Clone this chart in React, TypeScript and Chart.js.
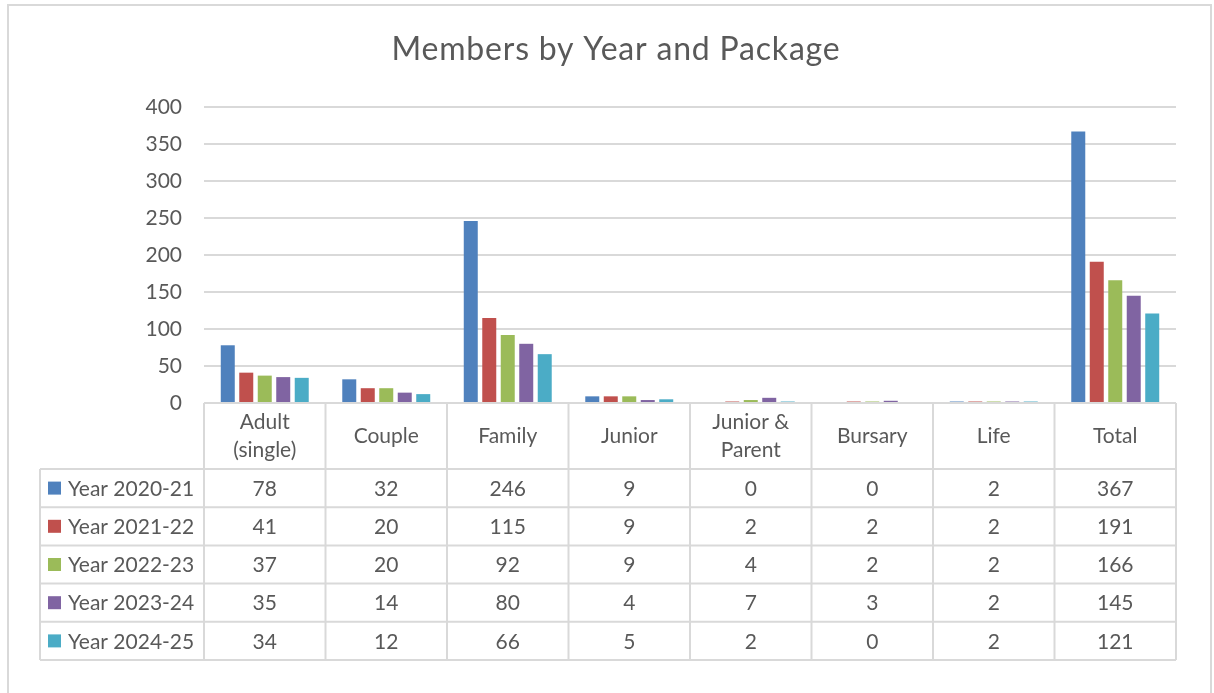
import React, { useEffect, useRef } from "react";
import { Chart, registerables } from "chart.js";

Chart.register(...registerables);

const TITLE = "Members by Year and Package";
const categories: string[][] = [
  ["Adult", "(single)"],
  ["Couple"],
  ["Family"],
  ["Junior"],
  ["Junior &", "Parent"],
  ["Bursary"],
  ["Life"],
  ["Total"],
];
const seriesNames = ["Year 2020-21", "Year 2021-22", "Year 2022-23", "Year 2023-24", "Year 2024-25"];
const year2020 = [78, 32, 246, 9, 0, 0, 2, 367];
const year2021 = [41, 20, 115, 9, 2, 2, 2, 191];
const year2022 = [37, 20, 92, 9, 4, 2, 2, 166];
const year2023 = [35, 14, 80, 4, 7, 3, 2, 145];
const year2024 = [34, 12, 66, 5, 2, 0, 2, 121];
const seriesColors = ["#4F81BD", "#C0504D", "#9BBB59", "#8064A2", "#4BACC6"];
const yMax = 400;
const yStep = 50;

const FONT = "Lato, 'Open Sans', sans-serif";
const TEXT = "#595959";
const LINE = "#D9D9D9";

const seriesValues = [year2020, year2021, year2022, year2023, year2024];

const framePlugin = {
  id: "frame",
  beforeDraw(chart: any) {
    const ctx = chart.ctx;
    ctx.save();
    ctx.fillStyle = "#FFFFFF";
    ctx.fillRect(0, 0, chart.width, chart.height);
    ctx.strokeStyle = LINE;
    ctx.lineWidth = 2;
    ctx.strokeRect(8, 5, 1203, 720);
    ctx.fillStyle = TEXT;
    ctx.font = `32px ${FONT}`;
    try {
      (ctx as any).letterSpacing = "0.8px";
    } catch (e) {}
    ctx.textAlign = "center";
    ctx.textBaseline = "alphabetic";
    ctx.fillText(TITLE, 616, 60);
    try {
      (ctx as any).letterSpacing = "0px";
    } catch (e) {}
    ctx.restore();
  },
};

const tablePlugin = {
  id: "dataTable",
  afterDraw(chart: any) {
    const ctx = chart.ctx;
    const area = chart.chartArea;
    const xs = chart.scales.x;
    const n = categories.length;
    const colW = (area.right - area.left) / n;
    const top = area.bottom;
    const headerH = 66;
    const rowH = 38.2;
    const legendLeft = 40;
    const rows = seriesNames.length;
    const bottom = top + headerH + rows * rowH;

    ctx.save();
    ctx.strokeStyle = LINE;
    ctx.lineWidth = 2;
    ctx.beginPath();
    ctx.moveTo(area.left, top);
    ctx.lineTo(area.right, top);
    for (let r = 0; r <= rows; r++) {
      const y = top + headerH + r * rowH;
      ctx.moveTo(legendLeft, y);
      ctx.lineTo(area.right, y);
    }
    for (let i = 0; i <= n; i++) {
      const x = area.left + i * colW;
      ctx.moveTo(x, top);
      ctx.lineTo(x, bottom);
    }
    ctx.moveTo(legendLeft, top + headerH);
    ctx.lineTo(legendLeft, bottom);
    ctx.stroke();

    ctx.fillStyle = TEXT;
    ctx.font = `21px ${FONT}`;
    ctx.textAlign = "center";
    ctx.textBaseline = "middle";
    categories.forEach((lines, i) => {
      const cx = xs.getPixelForValue(i);
      const cy = top + headerH / 2;
      const lh = 28;
      lines.forEach((ln, k) => {
        ctx.fillText(ln, cx, cy + (k - (lines.length - 1) / 2) * lh);
      });
    });
    seriesNames.forEach((name, r) => {
      const cy = top + headerH + r * rowH + rowH / 2;
      ctx.fillStyle = seriesColors[r];
      ctx.fillRect(48, cy - 6.5, 13, 13);
      ctx.fillStyle = TEXT;
      ctx.textAlign = "left";
      ctx.fillText(name, 68, cy + 1);
      ctx.textAlign = "center";
      seriesValues[r].forEach((v, i) => {
        ctx.fillText(String(v), xs.getPixelForValue(i), cy + 1);
      });
    });
    ctx.restore();
  },
};

export default function App() {
  const ref = useRef<HTMLCanvasElement | null>(null);
  useEffect(() => {
    let chart: Chart | null = null;
    let cancelled = false;
    const build = () => {
      if (cancelled || !ref.current) return;
      chart = new Chart(ref.current, {
        type: "bar",
        data: {
          labels: categories.map((c) => c.join(" ")),
          datasets: seriesNames.map((name, i) => ({
            label: name,
            data: seriesValues[i],
            backgroundColor: seriesColors[i],
            borderWidth: 0,
            categoryPercentage: 0.761,
            barPercentage: 0.757,
          })),
        },
        options: {
          responsive: false,
          animation: false,
          devicePixelRatio: 1,
          layout: { padding: { top: 107, left: 0, right: 38, bottom: 290 } },
          plugins: {
            legend: { display: false },
            title: { display: false },
            tooltip: { enabled: false },
          },
          scales: {
            x: { display: false },
            y: {
              min: 0,
              max: yMax,
              border: { display: false },
              grid: { color: LINE, lineWidth: 2, drawTicks: false },
              ticks: {
                stepSize: yStep,
                color: TEXT,
                padding: 22,
                font: { family: FONT, size: 21 },
              },
              afterFit: (scale: any) => {
                scale.width = 204;
              },
            },
          },
        },
        plugins: [framePlugin, tablePlugin],
      });
    };
    const fonts: any = (document as any).fonts;
    if (fonts && fonts.load) {
      Promise.all([fonts.load(`21px Lato`), fonts.load(`32px Lato`)]).then(build, build);
    } else build();
    return () => {
      cancelled = true;
      if (chart) chart.destroy();
    };
  }, []);
  return (
    <div style={{ position: "fixed", left: 0, top: 0, width: 1214, height: 693, background: "#fff" }}>
      <canvas ref={ref} width={1214} height={693} style={{ display: "block" }} />
    </div>
  );
}
